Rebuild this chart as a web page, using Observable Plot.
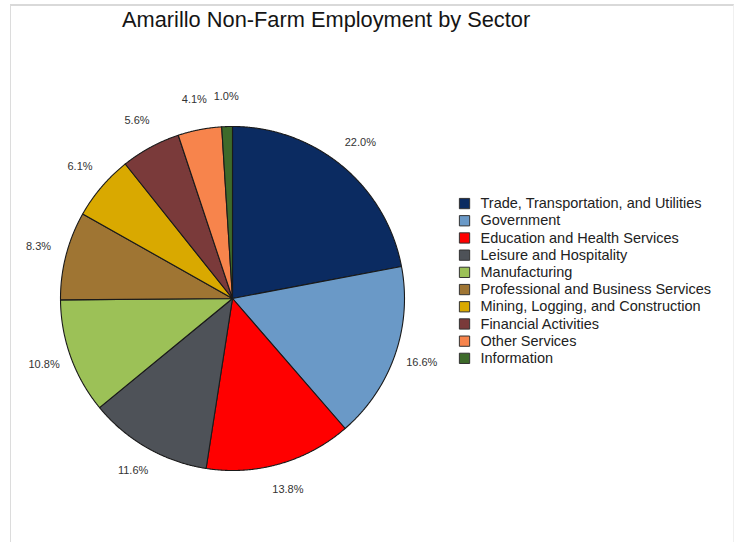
<!DOCTYPE html>
<html>
<head>
<meta charset="utf-8">
<script src="https://cdn.jsdelivr.net/npm/d3@7"></script>
<script src="https://cdn.jsdelivr.net/npm/@observablehq/plot@0.6"></script>
<style>
  html, body { margin: 0; padding: 0; background: #fff; }
  #wrap { position: relative; width: 736px; height: 542px; overflow: hidden; font-family: "Liberation Sans", Arial, sans-serif; }
  #frame { position: absolute; left: 10px; top: 4px; right: 2px; bottom: -4px; border-top: 2px solid #d9d9d9; border-left: 1px solid #dcdcdc; border-right: 1px solid #f0f0f0; pointer-events: none; }
  #title { position: absolute; left: 122px; top: 7px; font-size: 21.8px; color: #151515; white-space: nowrap; }
  #chart { position: absolute; left: 0; top: 0; }
</style>
</head>
<body>
<div id="wrap">
  <div id="frame"></div>
  <div id="chart"></div>
  <div id="title">Amarillo Non-Farm Employment by Sector</div>
</div>
<script>
// ---- data ----
const sectors = [
  "Trade, Transportation, and Utilities",
  "Government",
  "Education and Health Services",
  "Leisure and Hospitality",
  "Manufacturing",
  "Professional and Business Services",
  "Mining, Logging, and Construction",
  "Financial Activities",
  "Other Services",
  "Information"
];
const shares = [22.0, 16.6, 13.8, 11.6, 10.8, 8.3, 6.1, 5.6, 4.1, 1.0];
const colors = [
  "#0b2b61", "#6a99c7", "#ff0000", "#4e5258", "#9cc157",
  "#9f7533", "#d9a900", "#7a3a3a", "#f7844c", "#3d6a2a"
];

// ---- geometry built from data ----
const data = sectors.map((s, i) => ({sector: s, value: shares[i], idx: i}));
const arcs = d3.pie().sort(null).value(d => d.value)(data);

const slicePts = [];
for (const a of arcs) {
  const n = Math.max(2, Math.ceil((a.endAngle - a.startAngle) / (Math.PI / 720)));
  slicePts.push({sector: a.data.sector, x: 0, y: 0});
  for (let k = 0; k <= n; k++) {
    const t = a.startAngle + (a.endAngle - a.startAngle) * k / n;
    slicePts.push({sector: a.data.sector, x: Math.sin(t), y: Math.cos(t)});
  }
  slicePts.push({sector: a.data.sector, x: 0, y: 0});
}

const labelR = 1.165;
const labels = arcs.map(a => {
  const m = (a.startAngle + a.endAngle) / 2;
  return {x: labelR * Math.sin(m), y: labelR * Math.cos(m), text: a.data.value.toFixed(1) + "%"};
});

const legendX = 1.349, legendTextX = 1.442, legendTop = 0.552, legendStep = 0.1;
const legend = data.map((d, i) => ({sector: d.sector, x: legendX, tx: legendTextX, y: legendTop - legendStep * i}));

const R = 172;
const plot = Plot.plot({
  width: 736,
  height: 542,
  marginLeft: 232 - R,
  marginRight: 736 - (232 + R),
  marginTop: 298 - R,
  marginBottom: 542 - (298 + R),
  x: {domain: [-1, 1], axis: null},
  y: {domain: [-1, 1], axis: null},
  color: {type: "ordinal", domain: sectors, range: colors},
  style: {fontFamily: "Liberation Sans, Arial, sans-serif", overflow: "visible", background: "transparent"},
  marks: [
    Plot.line(slicePts, {x: "x", y: "y", z: "sector", fill: "sector", stroke: "#1a1a1a", strokeWidth: 1.1, strokeLinejoin: "round", curve: "linear"}),
    Plot.text(labels, {x: "x", y: "y", text: "text", fontSize: 11, fill: "#333", dy: -2}),
    Plot.dot(legend, {x: "x", y: "y", symbol: "square", r: 5.8, fill: "sector", stroke: "#333", strokeWidth: 1}),
    Plot.text(legend, {x: "tx", y: "y", text: "sector", textAnchor: "start", fontSize: 14.5, fill: "#222"})
  ]
});
document.getElementById("chart").appendChild(plot);
</script>
</body>
</html>
